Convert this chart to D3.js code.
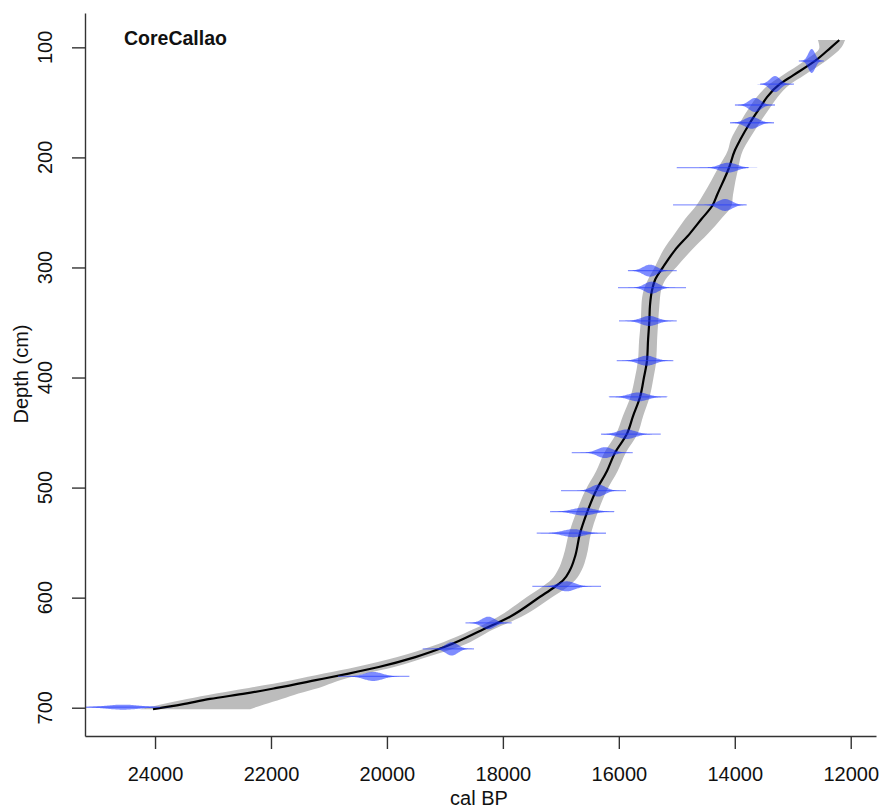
<!DOCTYPE html>
<html>
<head>
<meta charset="utf-8">
<script src="https://cdn.jsdelivr.net/npm/d3@7"></script>
<style>
  html, body { margin: 0; padding: 0; background: #fff; }
  svg { display: block; font-family: "Liberation Sans", Arial, Helvetica, sans-serif; }
</style>
</head>
<body>
<svg id="chart" width="884" height="808"></svg>
<script>
// ---------- data ----------
const title = "CoreCallao";
const xLabel = "cal BP";
const yLabel = "Depth (cm)";
const xTicks = [24000, 22000, 20000, 18000, 16000, 14000, 12000];
const yTicks = [100, 200, 300, 400, 500, 600, 700];
const xDomain = [25208, 11564];
const yDomain = [68.8, 725.7];

// age-depth model: depth (cm), mean age, oldest (95%) and youngest (95%) age
const modelDepth = [93.4,100,112.4,125.5,133.3,145.2,152.4,168.5,184.2,193.3,209.4,234.2,243.3,256.0,269.0,284.2,299.3,311.4,320.5,334.1,348.7,366.0,384.7,399.5,417.7,435.0,451.6,468.3,484.9,502.8,523.4,541.5,562.8,574.9,584.0,590.1,599.2,617.3,629.0,644.0,654.0,663.0,669.0,675.0,682.0,687.0,692.0,697.0,701.4];
const modelMean  = [12197,12340,12616,12995,13220,13444,13535,13737,13909,13996,14099,14306,14380,14574,14772,15031,15232,15376,15427,15462,15474,15496,15514,15565,15634,15755,15864,16066,16204,16393,16554,16669,16756,16842,16957,17101,17359,17877,18343,18965,19510,20141,20662,21228,21903,22431,23052,23535,24035];
const modelOld   = [12566,12540,12800,13180,13400,13620,13720,13910,14070,14117,14284,14548,14656,14858,15031,15232,15376,15500,15570,15610,15620,15650,15670,15720,15800,15930,16050,16250,16390,16580,16740,16860,16960,17050,17170,17320,17580,18080,18520,19212,19821,20533,21090,21644,22382,22950,23450,23900,24260];
const modelYoung = [12098,12160,12430,12810,13040,13260,13360,13570,13760,13858,13939,14031,14053,14237,14456,14743,15001,15200,15270,15300,15320,15340,15355,15400,15470,15580,15680,15880,16020,16210,16370,16480,16560,16640,16750,16880,17140,17680,18170,18722,19309,19877,20370,20809,21178,21526,21815,22120,22360];

// calibrated dates: depth, central age, spread, full range
const dateDepth = [112.4,133.4,152.4,168.5,209.3,243.2,302.9,318.3,348.6,384.7,417.6,451.5,468.2,502.7,521.8,541.4,589.7,623.0,646.5,671.6,699.5];
const dateAge   = [12673,13306,13651,13708,14111,14168,15462,15433,15474,15519,15664,15864,16238,16354,16613,16785,16899,18251,18883,20235,24552];
const dateSd    = [75,112,128,150,180,150,150,150,180,180,200,190,165,150,225,225,180,143,135,200,360];
const dateYoung = [12464,12978,13306,13323,13766,13794,15001,14841,15001,15060,15174,15277,15760,15876,16083,16221,16307,17848,18498,19613,23914];
const dateOld   = [12895,13565,13997,14082,15001,15065,15841,16014,15997,16036,16164,16307,16812,16997,17187,17416,17492,18645,19383,20844,25300];

// ---------- drawing ----------
const svg = d3.select("#chart");
const x = d3.scaleLinear().domain(xDomain).range([85, 876]);
const y = d3.scaleLinear().domain(yDomain).range([13, 736]);

svg.append("defs").append("clipPath").attr("id", "plotclip")
  .append("rect").attr("x", 85).attr("y", 13).attr("width", 791).attr("height", 723);

const plot = svg.append("g").attr("clip-path", "url(#plotclip)");

const model = modelDepth.map((d, i) => ({ depth: d, mean: modelMean[i], old: modelOld[i], young: modelYoung[i] }));

// grey 95% range
plot.append("path")
  .datum(model)
  .attr("fill", "#bcbcbc")
  .attr("d", d3.area()
    .y(d => y(d.depth))
    .x0(d => x(d.old))
    .x1(d => x(d.young))
    .curve(d3.curveMonotoneY));

// mean line
plot.append("path")
  .datum(model)
  .attr("fill", "none")
  .attr("stroke", "#000")
  .attr("stroke-width", 2.2)
  .attr("d", d3.line()
    .y(d => y(d.depth))
    .x(d => x(d.mean))
    .curve(d3.curveMonotoneY));

// calibrated date distributions (equal-area)
const K = 900;     // px*yr
const wf = 0.8;    // shape width factor
dateDepth.forEach((dep, i) => {
  const mu = dateAge[i], sd = dateSd[i];
  const lo = dateYoung[i], hi = dateOld[i];
  const yc = y(dep);
  plot.append("line")
    .attr("x1", x(lo)).attr("x2", x(hi))
    .attr("y1", yc).attr("y2", yc)
    .attr("stroke", "rgba(50,70,255,0.55)")
    .attr("stroke-width", 1.3);
  const s = sd * wf;
  const ages = d3.range(mu - 3.5 * s, mu + 3.5 * s + 1, s / 12);
  const pts = ages.map(a => {
    const z = (a - mu) / s;
    return { a, h: (K / sd) * Math.exp(-0.5 * z * z) };
  });
  plot.append("path")
    .datum(pts)
    .attr("fill", "rgba(20,45,255,0.55)")
    .attr("d", d3.area()
      .x(d => x(d.a))
      .y0(d => yc - d.h)
      .y1(d => yc + d.h)
      .curve(d3.curveLinear));
});

// axes
const axisColor = "#333";
const gx = svg.append("g").attr("transform", "translate(0,736)")
  .call(d3.axisBottom(x).tickValues(xTicks).tickSize(13).tickSizeOuter(0)
    .tickPadding(18).tickFormat(d3.format("d")));
gx.select(".domain").attr("stroke", axisColor).attr("stroke-width", 1.4);
gx.selectAll(".tick line").attr("stroke", axisColor).attr("stroke-width", 1.4);
gx.selectAll(".tick text").attr("font-size", 20).attr("fill", "#111")
  .attr("font-family", "'Liberation Sans', Arial, sans-serif");

const gy = svg.append("g").attr("transform", "translate(85,0)")
  .call(d3.axisLeft(y).tickValues(yTicks).tickSize(13).tickSizeOuter(0).tickFormat(""));
gy.select(".domain").attr("stroke", axisColor).attr("stroke-width", 1.4);
gy.selectAll(".tick line").attr("stroke", axisColor).attr("stroke-width", 1.4);

svg.append("g").selectAll("text").data(yTicks).join("text")
  .attr("transform", d => `translate(52,${y(d)}) rotate(-90)`)
  .attr("text-anchor", "middle")
  .attr("font-size", 20)
  .attr("fill", "#111")
  .text(d => d);

svg.append("text")
  .attr("transform", "translate(28,374) rotate(-90)")
  .attr("text-anchor", "middle")
  .attr("font-size", 20)
  .attr("fill", "#111")
  .text(yLabel);

svg.append("text")
  .attr("x", 479).attr("y", 805)
  .attr("text-anchor", "middle")
  .attr("font-size", 20)
  .attr("fill", "#111")
  .text(xLabel);

svg.append("text")
  .attr("x", 124).attr("y", 45)
  .attr("font-size", 19.5)
  .attr("font-weight", "bold")
  .attr("fill", "#111")
  .text(title);
</script>
</body>
</html>
